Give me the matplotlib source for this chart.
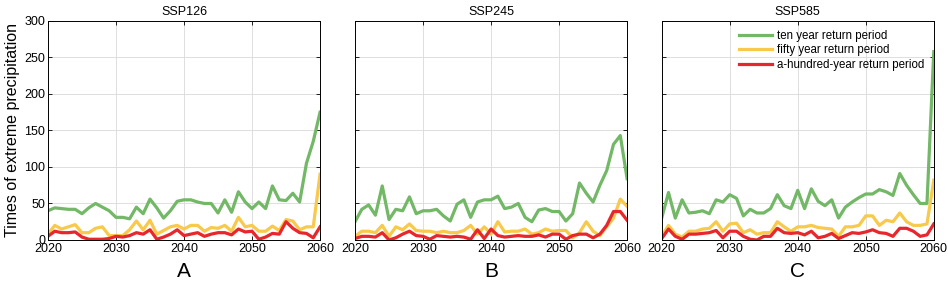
import numpy as np
import matplotlib
matplotlib.use("Agg")
import matplotlib.pyplot as plt

plt.rcParams['font.family'] = ['Liberation Sans', 'DejaVu Sans']

years = np.arange(2020, 2061)

# SSP126
a_ten = [40, 44, 43, 42, 42, 36, 44, 50, 45, 40, 31, 31, 29, 45, 36, 56, 44, 30, 40, 53,
         55, 55, 52, 50, 50, 37, 55, 38, 66, 52, 43, 52, 43, 74, 55, 54, 64, 52, 105, 135, 175]
a_fifty = [8, 20, 15, 18, 21, 10, 10, 16, 18, 6, 6, 6, 14, 26, 14, 27, 8, 13, 18, 20,
           15, 20, 20, 12, 17, 16, 20, 12, 31, 18, 20, 12, 12, 19, 13, 28, 26, 14, 18, 18, 90]
a_hund = [5, 12, 10, 10, 11, 4, 1, 1, 1, 2, 5, 4, 6, 10, 8, 14, 1, 4, 8, 14,
          6, 8, 10, 5, 8, 10, 10, 7, 15, 11, 12, 1, 4, 9, 8, 25, 16, 10, 9, 3, 18]

# SSP245
b_ten = [25, 42, 48, 34, 74, 28, 42, 40, 59, 36, 40, 40, 42, 33, 26, 49, 55, 31, 52, 55,
         55, 60, 43, 45, 50, 31, 25, 41, 43, 39, 39, 26, 36, 78, 64, 52, 75, 95, 131, 143, 84]
b_fifty = [5, 12, 12, 10, 20, 5, 18, 14, 22, 13, 12, 12, 10, 12, 10, 10, 13, 20, 8, 18,
           8, 25, 11, 12, 12, 15, 8, 10, 15, 12, 13, 13, 3, 10, 25, 12, 6, 18, 30, 56, 46]
b_hund = [2, 5, 5, 4, 10, 0, 3, 8, 12, 6, 5, 1, 6, 5, 4, 5, 4, 1, 14, 2,
          15, 6, 4, 5, 6, 5, 5, 7, 4, 8, 8, 1, 6, 8, 8, 3, 8, 20, 39, 39, 27]

# SSP585
c_ten = [30, 65, 30, 55, 37, 38, 40, 36, 55, 52, 62, 57, 33, 42, 37, 37, 43, 62, 47, 43,
         68, 43, 70, 53, 47, 55, 30, 45, 52, 58, 63, 63, 69, 66, 61, 91, 75, 62, 50, 50, 258]
c_fifty = [5, 20, 8, 4, 12, 12, 15, 16, 25, 12, 22, 23, 10, 14, 8, 10, 10, 25, 18, 12,
           18, 18, 20, 17, 16, 15, 5, 18, 18, 20, 33, 33, 20, 27, 25, 37, 25, 20, 20, 22, 82]
c_hund = [2, 15, 5, 1, 8, 8, 9, 10, 13, 3, 12, 12, 5, 1, 0, 5, 5, 16, 10, 9,
          10, 7, 12, 3, 5, 9, 2, 6, 10, 9, 11, 14, 10, 9, 5, 16, 16, 12, 5, 7, 22]

titles = ["SSP126", "SSP245", "SSP585"]
letters = ["A", "B", "C"]
series = [(a_ten, a_fifty, a_hund), (b_ten, b_fifty, b_hund), (c_ten, c_fifty, c_hund)]
labels = ["ten year return period", "fifty year return period", "a-hundred-year return period"]
colors = ["#72b866", "#f8c94a", "#e8262b"]

fig = plt.figure(figsize=(9.48, 2.83), dpi=100)
lefts = [0.0506, 0.3745, 0.698]
for i in range(3):
    ax = fig.add_axes([lefts[i], 0.152, 0.287, 0.774])
    for vals, lab, col in zip(series[i], labels, colors):
        ax.plot(years, vals, color=col, lw=2.3, label=lab)
    ax.set_xlim(2020, 2060)
    ax.set_ylim(0, 300)
    ax.set_xticks([2020, 2030, 2040, 2050, 2060])
    ax.set_yticks([0, 50, 100, 150, 200, 250, 300])
    ax.grid(True, color="#d9d9d9", lw=0.6)
    ax.tick_params(direction="in", top=True, right=True, length=3, width=0.6,
                   labelsize=9, pad=2)
    for s in ax.spines.values():
        s.set_linewidth(0.7)
    if i > 0:
        ax.set_yticklabels([])
    else:
        ax.set_ylabel("Times of extreme precipitation", fontsize=11.5, labelpad=3)
    ax.set_title(titles[i], fontsize=9, pad=4)
    ax.text(0.5, -0.1, letters[i], transform=ax.transAxes, ha="center", va="top", fontsize=15)
    if i == 2:
        ax.legend(loc="upper right", frameon=False, fontsize=8.3, handlelength=2.9,
                  handletextpad=0.4, labelspacing=0.2, borderaxespad=0.2,
                  bbox_to_anchor=(0.99, 0.99))

fig.savefig("out.png", dpi=100)
